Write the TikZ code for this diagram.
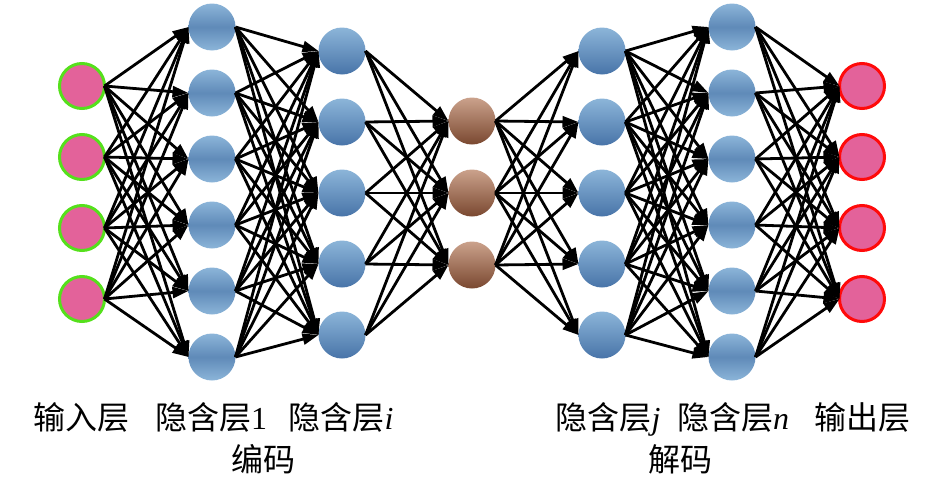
\documentclass[tikz,border=0pt]{standalone}
\usepackage{fontspec}
\setmainfont{Liberation Serif}
\newfontfamily\cjk{Noto Sans CJK SC}
\usetikzlibrary{arrows.meta}
\definecolor{pinkfill}{HTML}{E3629A}
\definecolor{greenb}{HTML}{55E01C}
\definecolor{redb}{HTML}{FF0A0A}
\definecolor{bluelight}{HTML}{8CB5D9}
\definecolor{bluemid}{HTML}{5F8AB8}
\definecolor{bluedark}{HTML}{4874A8}
\definecolor{brownlight}{HTML}{CBA28C}
\definecolor{browndark}{HTML}{7A4830}
\begin{document}
\begin{tikzpicture}[x=1pt,y=-1pt,
  neuron/.style={circle, inner sep=0pt, outer sep=0pt},
  innode/.style={neuron, minimum size=45pt, fill=pinkfill, draw=greenb, line width=3pt},
  outnode/.style={neuron, minimum size=45pt, fill=pinkfill, draw=redb, line width=3pt},
  hidsym/.style={neuron, minimum size=47pt, top color=bluelight, bottom color=bluelight, middle color=bluemid},
  hidgrad/.style={neuron, minimum size=47pt, top color=bluelight, bottom color=bluedark},
  codenode/.style={neuron, minimum size=47pt, top color=brownlight, bottom color=browndark},
  conn/.style={line width=2.8pt, -{Triangle[length=16pt,width=11pt]}},
  lab/.style={font=\fontsize{32}{38}\selectfont\cjk, inner sep=0pt, anchor=base}
]
\useasboundingbox (0,0) rectangle (945,482);

% layers
\foreach \y [count=\k] in {86,157,228,299}
  \node[innode] (a\k) at (82,\y) {};
\foreach \y [count=\k] in {27,93,159,225,291,357}
  \node[hidsym] (b\k) at (212,\y) {};
\foreach \y [count=\k] in {51,122,193,264,335}
  \node[hidgrad] (c\k) at (342,\y) {};
\foreach \y [count=\k] in {121,193,265}
  \node[codenode] (d\k) at (472,\y) {};
\foreach \y [count=\k] in {51,122,193,264,335}
  \node[hidgrad] (e\k) at (602,\y) {};
\foreach \y [count=\k] in {27,93,159,225,291,357}
  \node[hidsym] (f\k) at (732,\y) {};
\foreach \y [count=\k] in {86,157,228,299}
  \node[outnode] (g\k) at (862,\y) {};

% connections
\foreach \i in {1,...,4} \foreach \j in {1,...,6} \draw[conn] (a\i.east) -- (b\j.west);
\foreach \i in {1,...,6} \foreach \j in {1,...,5} \draw[conn] (b\i.east) -- (c\j.west);
\foreach \i in {1,...,5} \foreach \j in {1,...,3} \draw[conn] (c\i.east) -- (d\j.west);
\foreach \i in {1,...,3} \foreach \j in {1,...,5} \draw[conn] (d\i.east) -- (e\j.west);
\foreach \i in {1,...,5} \foreach \j in {1,...,6} \draw[conn] (e\i.east) -- (f\j.west);
\foreach \i in {1,...,6} \foreach \j in {1,...,4} \draw[conn] (f\i.east) -- (g\j.west);

% labels
\node[lab] (la) at (81,429) {输入层};
\node[lab] (lb) at (211,429) {隐含层{\rmfamily 1}};
\node[lab] (lc) at (341,429) {隐含层{\rmfamily\itshape i}};
\node[lab] (le) at (608,429) {隐含层{\rmfamily\itshape j}};
\node[lab] (lf) at (733,429) {隐含层{\rmfamily\itshape n}};
\node[lab] (lg) at (862,429) {输出层};
\node[lab] (enc) at (263,471) {编码};
\node[lab] (dec) at (680,471) {解码};
\end{tikzpicture}
\end{document}
